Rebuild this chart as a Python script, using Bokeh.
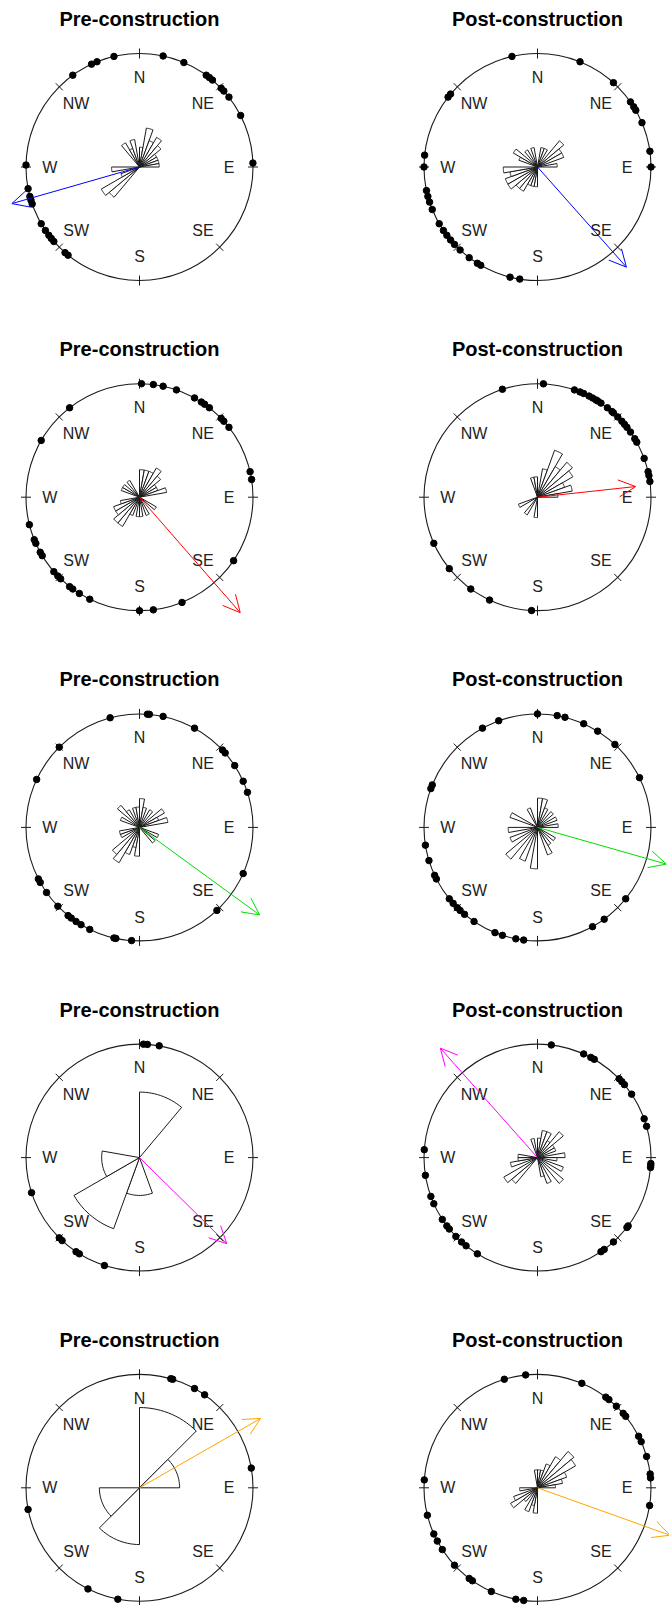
import numpy as np
from bokeh.plotting import figure
from bokeh.models import Range1d, Arrow, OpenHead
from bokeh.core.properties import value
from bokeh.embed import file_html
from bokeh.resources import INLINE

# ---------------- data ----------------
periods = ["Pre-construction", "Post-construction"]
point_labels = ["N", "NE", "E", "SE", "S", "SW", "W", "NW"]
point_bearings = [0, 45, 90, 135, 180, 225, 270, 315]

# individual headings (degrees clockwise from north), one list per panel
fixes_pre_1 = [12, 23, 36, 38, 40, 46, 48, 52, 63, 88, 219, 221, 229, 231, 233,
               236, 240, 251, 253, 255, 259, 271, 324, 335, 338, 347]
fixes_post_1 = [22, 42, 55, 58, 60, 67, 82, 90, 189, 194, 210, 212, 217, 223, 227,
                230, 233, 236, 240, 248, 252, 255, 258, 270, 276, 308, 310, 347]
fixes_pre_2 = [1, 7, 12, 19, 29, 33, 35, 38, 46, 48, 52, 77, 81, 124, 158, 173, 180,
               206, 212, 216, 218, 224, 226, 229, 239, 241, 246, 248, 256, 300, 322]
fixes_post_2 = [3, 19, 22, 24, 27, 29, 31, 32, 34, 38, 41, 42, 45, 48, 50, 52, 55,
                59, 61, 70, 77, 79, 82, 183, 205, 216, 231, 246, 342]
fixes_pre_3 = [4, 5, 12, 29, 47, 49, 57, 66, 72, 114, 137, 184, 192, 193, 206, 211,
               214, 217, 219, 226, 235, 241, 243, 295, 315, 345]
fixes_post_3 = [0, 10, 14, 24, 32, 43, 64, 129, 144, 151, 187, 191, 198, 202, 214,
                220, 223, 225, 228, 231, 243, 245, 253, 261, 290, 292, 331, 340]
fixes_pre_4 = [2, 4, 10, 198, 212, 214, 223, 225, 252]
fixes_post_4 = [7, 24, 28, 30, 46, 48, 50, 56, 70, 74, 93, 94, 95, 127, 128, 138, 144,
                146, 212, 219, 222, 226, 231, 233, 237, 246, 250, 261, 274]
fixes_pre_5 = [16, 17, 29, 35, 80, 191, 207, 259]
fixes_post_5 = [23, 37, 39, 44, 49, 51, 63, 66, 74, 83, 85, 99, 187, 191, 204, 215,
                217, 227, 237, 242, 246, 256, 274, 343, 354]

# rose diagram counts per sector, starting at north and running clockwise
rose_pre_1 = [1, 4, 2, 3, 2, 1, 1, 1, 1,  0, 0, 0, 0, 0, 0, 0, 0, 0,
              0, 0, 0, 0, 4, 5, 1, 0, 2,  0, 0, 0, 0, 0, 2, 1, 2, 0]
rose_post_1 = [0, 1, 1, 0, 3, 2, 2, 0, 1,  0, 0, 0, 0, 0, 0, 0, 0, 0,
               1, 1, 1, 2, 2, 3, 3, 2, 3,  0, 0, 1, 2, 0, 1, 0, 1, 0]
rose_pre_2 = [2, 2, 2, 3, 2, 1, 1, 2, 0,  0, 0, 0, 1, 0, 0, 1, 0, 1,
              1, 0, 1, 3, 3, 2, 2, 1, 0,  0, 0, 1, 1, 0, 1, 0, 0, 0]
rose_post_2 = [0, 2, 6, 3, 5, 4, 2, 3, 1,  0, 0, 0, 0, 0, 0, 0, 0, 0,
               1, 0, 0, 1, 0, 0, 1, 0, 0,  0, 0, 0, 0, 0, 0, 0, 1, 1]
rose_pre_3 = [2, 1, 0, 1, 0, 2, 1, 2, 0,  0, 0, 1, 0, 1, 0, 0, 0, 0,
              2, 1, 2, 4, 3, 0, 1, 1, 0,  0, 0, 1, 0, 2, 1, 0, 1, 1]
rose_post_3 = [2, 2, 1, 0, 1, 0, 1, 0, 1,  0, 0, 0, 1, 0, 1, 2, 0, 0,
               4, 0, 3, 0, 4, 0, 2, 0, 2,  0, 0, 2, 0, 0, 0, 1, 0, 0]
rose_pre_4 = [3, 0, 0, 0, 1, 4, 1, 0, 0]
rose_post_4 = [1, 2, 2, 1, 3, 1, 1, 0, 2,  1, 0, 2, 0, 3, 0, 2, 1, 0,
               0, 0, 0, 0, 3, 4, 0, 2, 1,  1, 0, 0, 0, 0, 0, 0, 1, 0]
rose_pre_5 = [4, 1, 0, 0, 2, 1, 0, 0]
rose_post_5 = [1, 1, 2, 4, 7, 6, 3, 2, 1,  0, 0, 0, 0, 0, 0, 0, 0, 0,
               2, 1, 2, 0, 1, 3, 2, 0, 1,  0, 0, 0, 0, 0, 0, 0, 0, 1]

# mean direction arrows (bearing in degrees, length relative to the unit circle)
mean_bearing = [254.0, 138.4, 138.9, 83.8, 126.1, 105.9, 134.6, 318.4, 60.2, 109.7]
mean_length = [1.17, 1.18, 1.35, 0.87, 1.31, 1.18, 1.08, 1.29, 1.23, 1.24]
row_colors = ["#0000ff", "#ff0000", "#00dd00", "#ff00ff", "#ffa500"]

panel_fixes = [fixes_pre_1, fixes_post_1, fixes_pre_2, fixes_post_2, fixes_pre_3,
               fixes_post_3, fixes_pre_4, fixes_post_4, fixes_pre_5, fixes_post_5]
panel_roses = [rose_pre_1, rose_post_1, rose_pre_2, rose_post_2, rose_pre_3,
               rose_post_3, rose_pre_4, rose_post_4, rose_pre_5, rose_post_5]

# ---------------- layout ----------------
W, H = 669, 1605
R = 113.5                      # circle radius in canvas units
col_x = [139.0, 537.0]
row_top = [166.5 + 330.2 * i for i in range(5)]

FONT = value("Liberation Sans")
INK = "#1a1a1a"

p = figure(width=W, height=H, x_range=Range1d(0, W), y_range=Range1d(0, H),
           output_backend="svg", toolbar_location=None, min_border=0,
           x_axis_location=None, y_axis_location=None)
p.grid.visible = False
p.outline_line_color = None
p.background_fill_color = "white"
p.border_fill_color = "white"


def polar(cx, cy, bearing, r):
    t = np.radians(np.asarray(bearing, dtype=float))
    return cx + r * np.sin(t), cy + r * np.cos(t)


for k in range(10):
    row, col = divmod(k, 2)
    cx = col_x[col]
    cy = H - row_top[row]
    color = row_colors[row]

    # title
    p.text(x=[cx], y=[cy + 148.0], text=[periods[col]], text_font=FONT,
           text_font_size="20px", text_font_style="bold", text_color="black",
           text_align="center", text_baseline="middle")

    # outer circle
    p.circle(x=[cx], y=[cy], radius=R, fill_color=None, line_color=INK,
             line_width=1.1)

    # compass ticks crossing the circle
    x0, y0 = polar(cx, cy, point_bearings, R - 5)
    x1, y1 = polar(cx, cy, point_bearings, R + 5)
    p.segment(x0=x0, y0=y0, x1=x1, y1=y1, line_color=INK, line_width=1)

    # compass labels
    lx, ly = polar(cx, cy, point_bearings, 0.79 * R)
    p.text(x=lx, y=ly, text=point_labels, text_font=FONT,
           text_font_size="16px", text_color="#222222",
           text_align="center", text_baseline="middle")

    # rose diagram: sector radius proportional to sqrt of relative frequency
    counts = np.asarray(panel_roses[k], dtype=float)
    n = counts.sum()
    width = 360.0 / len(counts)
    xs, ys = [], []
    for b, c in enumerate(counts):
        if c <= 0:
            continue
        r = R * np.sqrt(c / n)
        arc = np.linspace(b * width, (b + 1) * width, 16)
        ax, ay = polar(cx, cy, arc, r)
        xs.append(np.concatenate([[cx], ax, [cx]]))
        ys.append(np.concatenate([[cy], ay, [cy]]))
    p.patches(xs=xs, ys=ys, fill_color="white", line_color=INK, line_width=1)

    # observed headings on the circle
    dx, dy = polar(cx, cy, panel_fixes[k], R)
    p.scatter(x=dx, y=dy, size=6.5, fill_color="black", line_color="black")

    # mean direction arrow
    ex, ey = polar(cx, cy, mean_bearing[k], mean_length[k] * R)
    p.add_layout(Arrow(x_start=cx, y_start=cy, x_end=float(ex), y_end=float(ey),
                       line_color=color, line_width=1,
                       end=OpenHead(size=17, line_color=color, line_width=1)))

open("out.html", "w").write(file_html(p, INLINE))
